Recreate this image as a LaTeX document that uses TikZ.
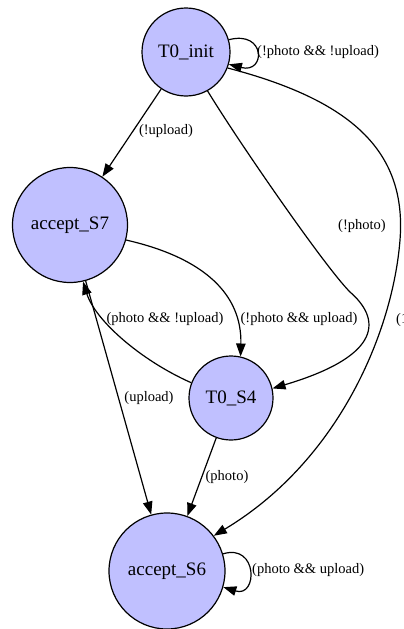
\documentclass[tikz,border=0pt]{standalone}
\usepackage{fontspec}
\setmainfont{Liberation Serif}
\usetikzlibrary{arrows.meta}
\definecolor{statefill}{RGB}{192,192,255}
\begin{document}
\begin{tikzpicture}[x=1pt,y=-1pt,
  state/.style={circle,draw=black,line width=1.2pt,fill=statefill,inner sep=0pt,
    font=\fontsize{19}{22}\selectfont},
  edge/.style={line width=1.2pt,-{Triangle[length=13pt,width=9.5pt]}},
  lbl/.style={font=\fontsize{14.5}{17}\selectfont,inner sep=0pt}]
  \useasboundingbox[fill=white] (0,0) rectangle (404,629);

  % states
  \node[state,minimum size=88pt]  (init) at (186,52)  {T0\_init};
  \node[state,minimum size=115pt] (s7)   at (70,225)  {accept\_S7};
  \node[state,minimum size=84pt]  (s4)   at (231,398) {T0\_S4};
  \node[state,minimum size=116pt] (s6)   at (167,571) {accept\_S6};

  % transitions
  \draw[edge] (init.16) .. controls (266,30) and (266,74) .. (init.-16);
  \draw[edge] (init) -- (s7);
  \coordinate (bend1) at (350,292);
  \draw[edge] (init.-61) .. controls (238,141) and (325,267) .. (bend1)
                         .. controls (380,318) and (385,355) .. (s4.13);
  \coordinate (bend2) at (400,240);
  \draw[edge] (init.-21) .. controls (350,100) and (407,150) .. (bend2)
                         .. controls (393,330) and (340,460) .. (s6.37);
  \draw[edge] (s7.-15) .. controls (205,258) and (242,295) .. (s4.77);
  \draw[edge] (s4.159) .. controls (140,360) and (95,320) .. (s7.-77);
  \draw[edge] (s7) -- (s6);
  \draw[edge] (s4) -- (s6);
  \draw[edge] (s6.17) .. controls (258,543) and (258,598) .. (s6.-16);

  % guards
  \node[lbl,anchor=west] (g1) at (257,52)  {(!photo \&\& !upload)};
  \node[lbl]             (g2) at (166,131) {(!upload)};
  \node[lbl]             (g3) at (362,226) {(!photo)};
  \node[lbl]             (g4) at (165,319) {(photo \&\& !upload)};
  \node[lbl]             (g5) at (299,319) {(!photo \&\& upload)};
  \node[lbl]             (g6) at (149,398) {(upload)};
  \node[lbl]             (g7) at (227,477) {(photo)};
  \node[lbl,anchor=west] (g8) at (252,570) {(photo \&\& upload)};
  \node[lbl,anchor=west] (g9) at (396,320) {(1)};
\end{tikzpicture}
\end{document}
